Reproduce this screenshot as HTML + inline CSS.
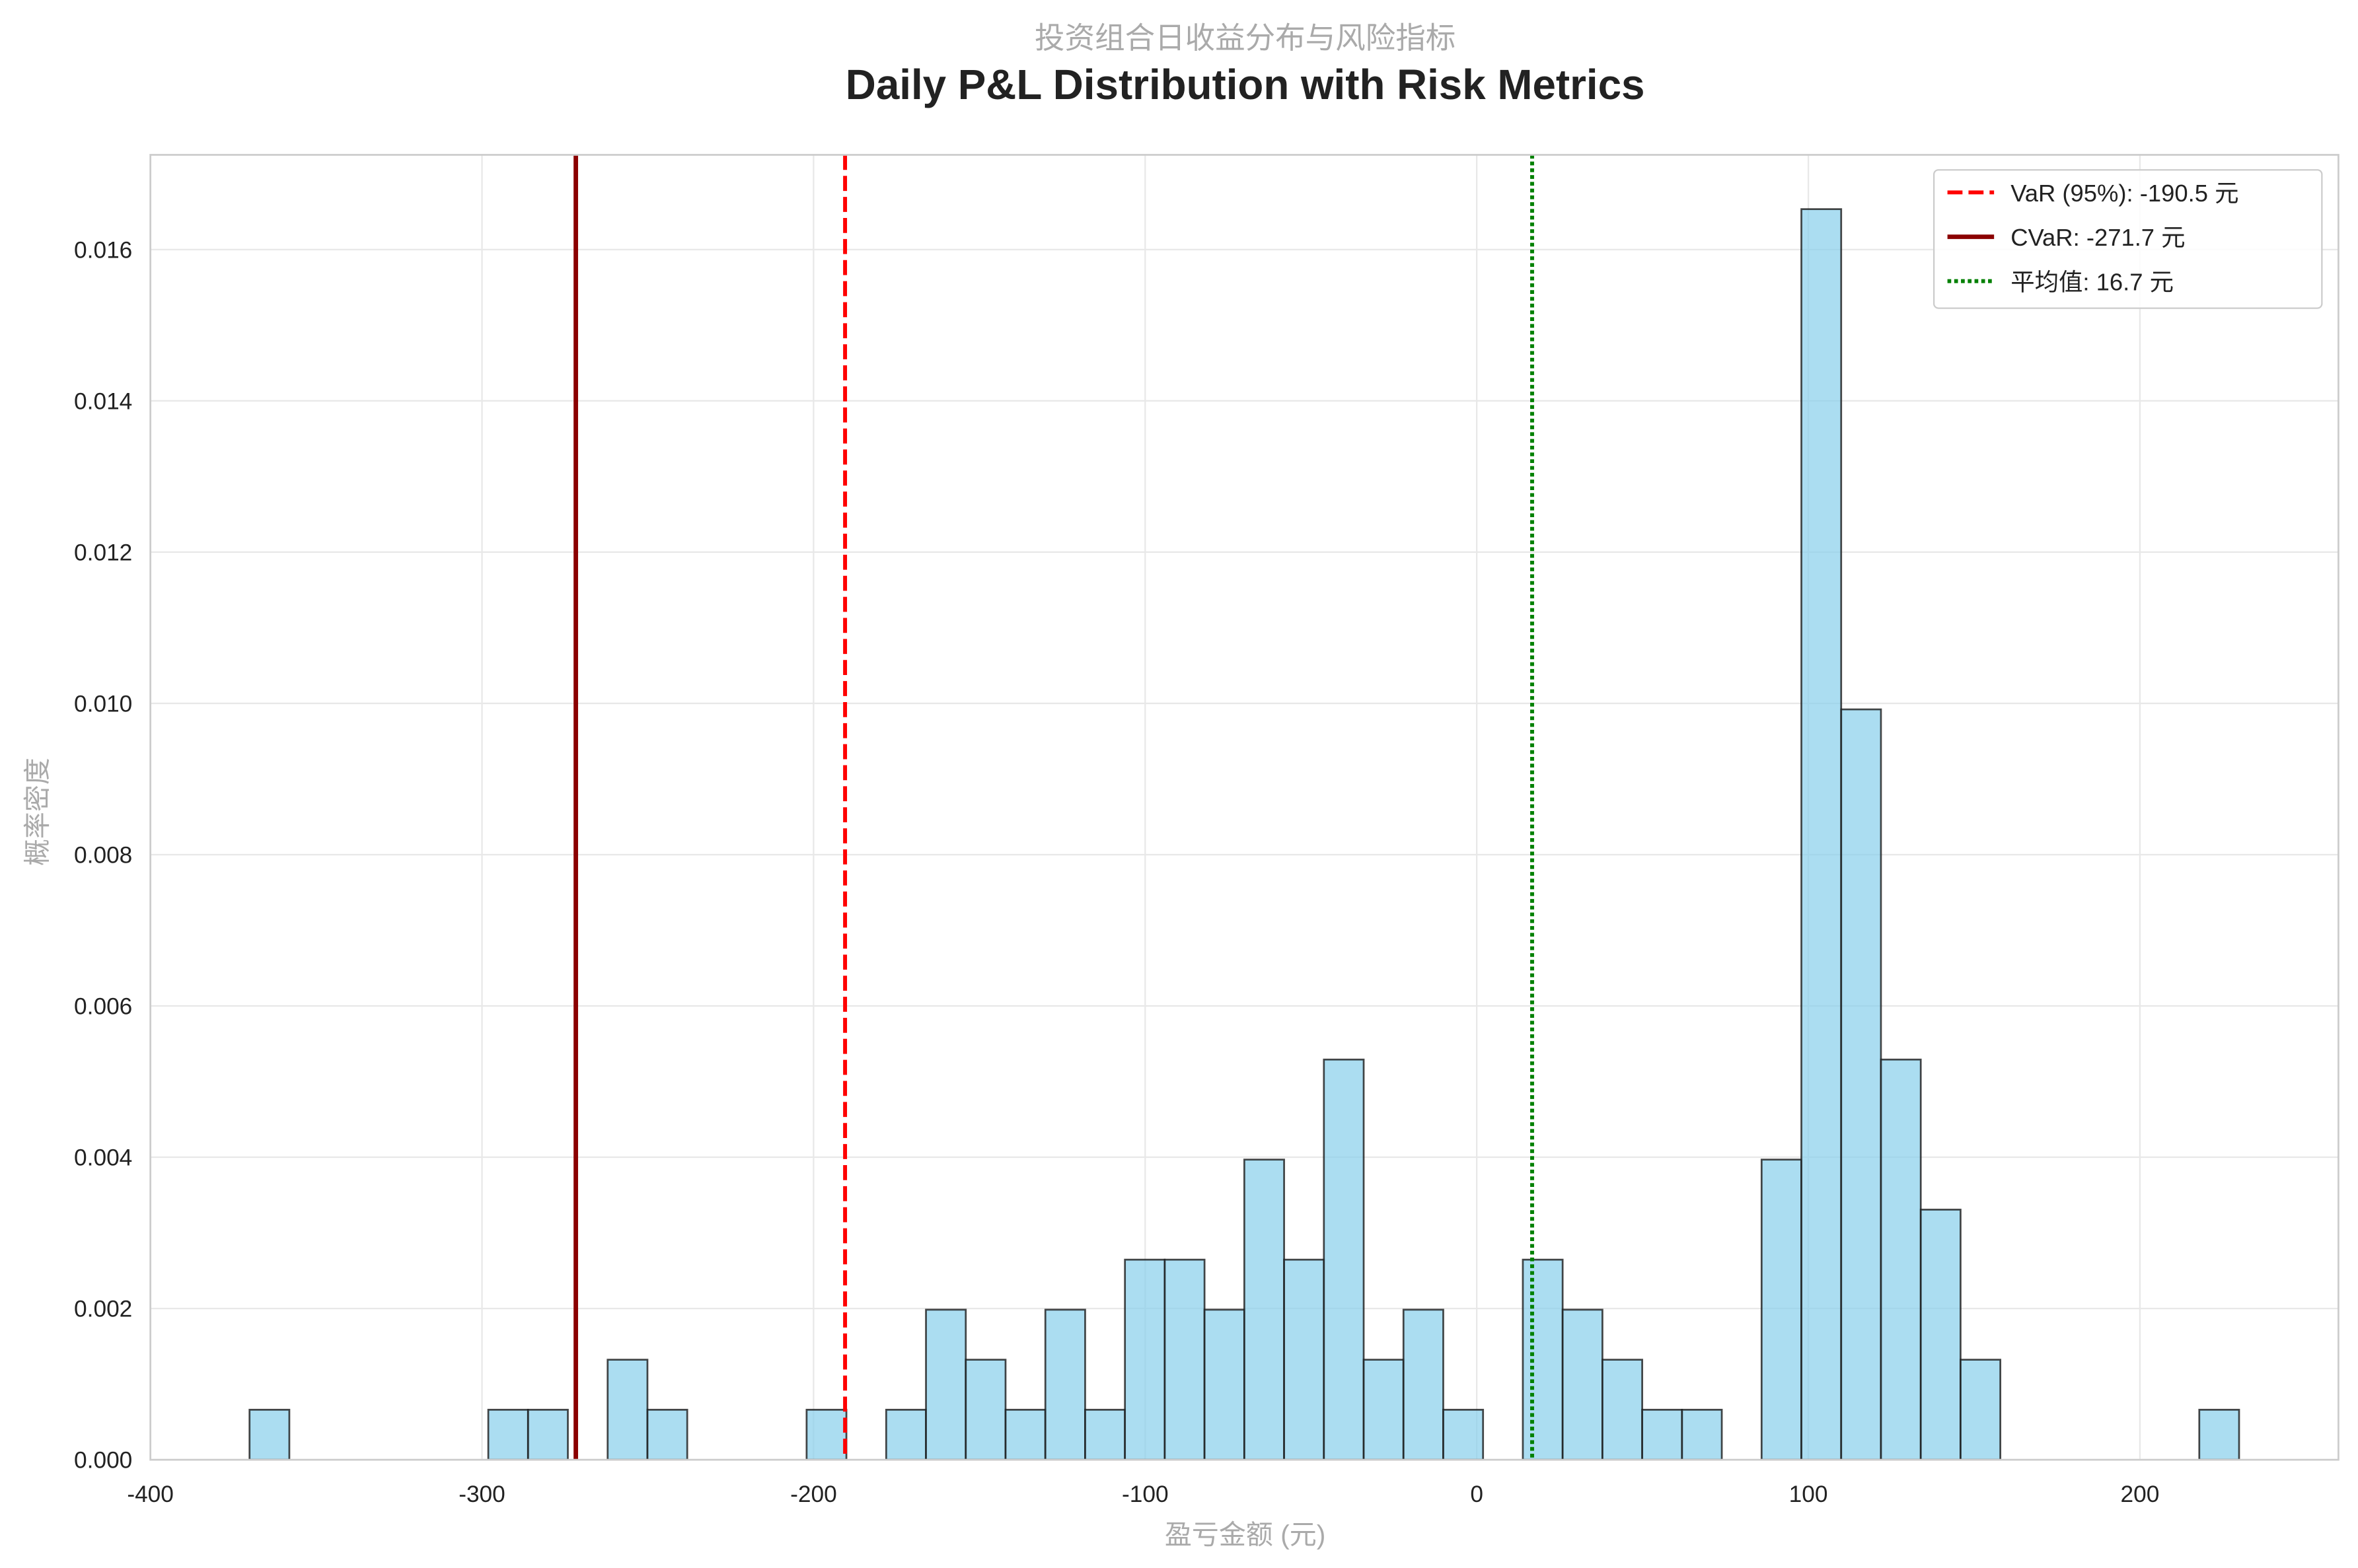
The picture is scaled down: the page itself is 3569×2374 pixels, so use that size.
<!DOCTYPE html>
<html><head><meta charset="utf-8"><style>
html,body{margin:0;padding:0;background:#fff}
svg{display:block}
text{font-family:"Liberation Sans","Noto Sans CJK SC",sans-serif}
</style></head><body>
<svg id="chart" width="3569" height="2374" viewBox="0 0 1568 1043" xmlns="http://www.w3.org/2000/svg">
<text x="828" y="32" text-anchor="middle" font-size="20" fill="#aaa">投资组合日收益分布与风险指标</text>
<text x="828" y="66" text-anchor="middle" font-size="28" font-weight="bold" fill="#222">Daily P&amp;L Distribution with Risk Metrics</text>
<g id="grid"></g><g id="bars"></g><g id="vlines"></g><g id="axes"></g>
<text x="828" y="1027" text-anchor="middle" font-size="18" fill="#aaa">盈亏金额 (元)</text>
<text x="0" y="0" transform="translate(31,540) rotate(-90)" text-anchor="middle" font-size="18" fill="#aaa">概率密度</text>
<g id="legend"></g>
</svg>
<script>
const binStart = -370.1;
const binWidth = 12;
const binCounts = [1,0,0,0,0,0,1,1,0,2,1,0,0,0,1,0,1,3,2,1,3,1,4,4,3,6,4,8,2,3,1,0,4,3,2,1,1,0,6,25,15,8,5,2,0,0,0,0,0,1];
const xTicks = [-400,-300,-200,-100,0,100,200];
const yTicks = [0,0.002,0.004,0.006,0.008,0.010,0.012,0.014,0.016];
const yTickLabels = ["0.000","0.002","0.004","0.006","0.008","0.010","0.012","0.014","0.016"];
const riskNames = ["VaR (95%): -190.5 元","CVaR: -271.7 元","平均值: 16.7 元"];
const riskValues = [-190.5,-271.7,16.7];

const L=100,R=1555,T=103,B=971;
const xs=v=>982+(v)*2.205;
const ys=v=>B-v*(805/0.016);
const NS="http://www.w3.org/2000/svg";
function mk(tag,attrs,parent){const e=document.createElementNS(NS,tag);for(const k in attrs)e.setAttribute(k,attrs[k]);parent.appendChild(e);return e;}
const total=binCounts.reduce((a,b)=>a+b,0);
const grid=document.getElementById('grid');
xTicks.forEach(t=>{const l=mk('line',{x1:xs(t),x2:xs(t),y1:T,y2:B,stroke:'#e8e8e8','stroke-width':1},grid);

});
yTicks.forEach(t=>{const l=mk('line',{x1:L,x2:R,y1:ys(t),y2:ys(t),stroke:'#e8e8e8','stroke-width':1},grid);

});
const bars=document.getElementById('bars');
binCounts.forEach((c,i)=>{if(!c)return;const d=c/(total*binWidth);const x0=xs(binStart+i*binWidth),x1=xs(binStart+(i+1)*binWidth);
const r=mk('rect',{x:x0,y:ys(d),width:x1-x0,height:B-ys(d),fill:'#87ceeb','fill-opacity':0.7,stroke:'#1a1a1a','stroke-opacity':0.8,'stroke-width':1.2},bars);

});
const styles=[{c:'#ff0000',d:'10,4',w:2.6},{c:'#8b0000',d:'',w:3},{c:'#008000',d:'2.5,2',w:2.6}];
const vl=document.getElementById('vlines');
riskValues.forEach((v,i)=>{const s=styles[i];const a={x1:xs(v),x2:xs(v),y1:T,y2:B,stroke:s.c,'stroke-width':s.w};if(s.d)a['stroke-dasharray']=s.d;
const l=mk('line',a,vl);

});
const ax=document.getElementById('axes');
mk('rect',{x:L,y:T,width:R-L,height:B-T,fill:'none',stroke:'#ccc','stroke-width':1.2},ax);
xTicks.forEach(t=>{const e=mk('text',{x:xs(t),y:999,'text-anchor':'middle','font-size':15.5,fill:'#222'},ax);e.textContent=t;

});
yTicks.forEach((t,i)=>{const e=mk('text',{x:88,y:ys(t)+5.5,'text-anchor':'end','font-size':15.5,fill:'#222'},ax);e.textContent=yTickLabels[i];

});
const lg=document.getElementById('legend');
mk('rect',{x:1286,y:113,width:258,height:92,rx:3,fill:'#fff','fill-opacity':0.85,stroke:'#ccc','stroke-width':1},lg);
riskNames.forEach((n,i)=>{const y=128+i*29.5;const s=styles[i];const a={x1:1295,x2:1326,y1:y,y2:y,stroke:s.c,'stroke-width':s.w};if(s.d)a['stroke-dasharray']=s.d;
const l=mk('line',a,lg);


const t=mk('text',{x:1337,y:y+6,'font-size':16,fill:'#222'},lg);t.textContent=n;

});
</script>
</body></html>
